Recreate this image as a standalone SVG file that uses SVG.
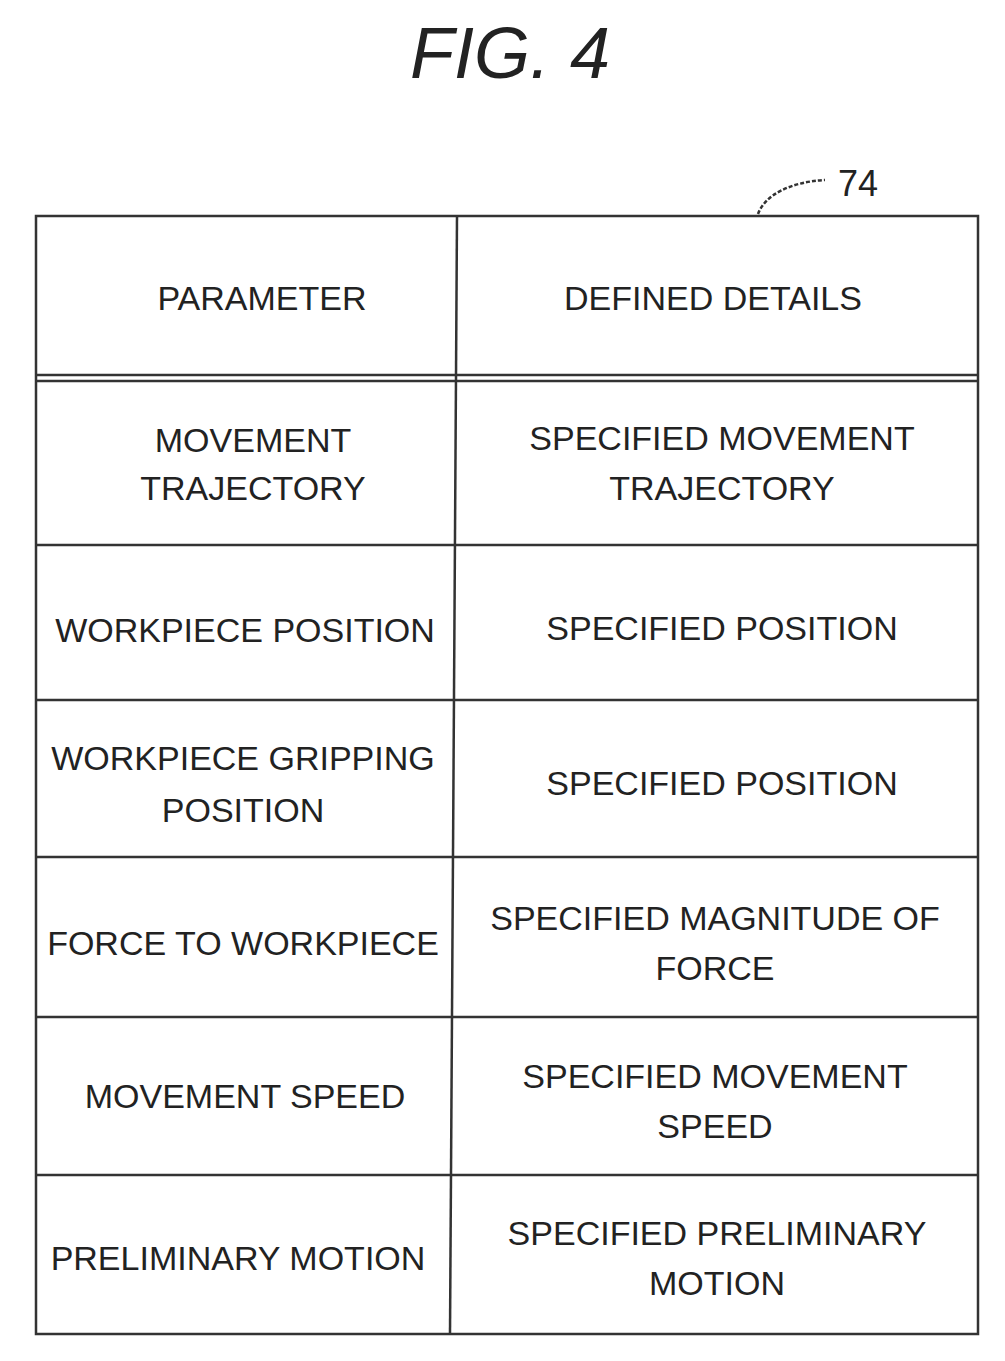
<svg xmlns="http://www.w3.org/2000/svg" width="1005" height="1361" viewBox="0 0 1005 1361">
<style>
.t{font-family:"Liberation Sans",Arial,sans-serif;font-size:34px;fill:#222;text-anchor:middle;letter-spacing:0px}
.l{stroke:#333;stroke-width:2.5;fill:none}
</style>
<rect width="1005" height="1361" fill="#fff"/>
<text x="510" y="78" font-family="Liberation Sans,Arial,sans-serif" font-style="italic" font-size="72" fill="#222" text-anchor="middle">FIG. 4</text>
<g id="ref74">
<text x="858" y="196" font-family="Liberation Sans,Arial,sans-serif" font-size="36" fill="#222" text-anchor="middle">74</text>
<path class="l" d="M758 214 C765 195 790 182 825 180" stroke-dasharray="4 2"/>
</g>
<g id="connectors">
<rect class="l" x="36" y="216" width="942" height="1118"/>
<line class="l" x1="457" y1="216" x2="450" y2="1334"/>
<line class="l" x1="36" y1="375" x2="978" y2="375"/>
<line class="l" x1="36" y1="381" x2="978" y2="381"/>
<line class="l" x1="36" y1="545" x2="978" y2="545"/>
<line class="l" x1="36" y1="700" x2="978" y2="700"/>
<line class="l" x1="36" y1="857" x2="978" y2="857"/>
<line class="l" x1="36" y1="1017" x2="978" y2="1017"/>
<line class="l" x1="36" y1="1175" x2="978" y2="1175"/>
</g>
<g id="r0"><text class="t" x="262" y="310">PARAMETER</text><text class="t" x="713" y="310">DEFINED DETAILS</text></g>
<g id="r1"><text class="t" x="253" y="452">MOVEMENT</text><text class="t" x="253" y="500">TRAJECTORY</text><text class="t" x="722" y="450">SPECIFIED MOVEMENT</text><text class="t" x="722" y="500">TRAJECTORY</text></g>
<g id="r2"><text class="t" x="245" y="642">WORKPIECE POSITION</text><text class="t" x="722" y="640">SPECIFIED POSITION</text></g>
<g id="r3"><text class="t" x="243" y="770">WORKPIECE GRIPPING</text><text class="t" x="243" y="822">POSITION</text><text class="t" x="722" y="795">SPECIFIED POSITION</text></g>
<g id="r4"><text class="t" x="243" y="955">FORCE TO WORKPIECE</text><text class="t" x="715" y="930">SPECIFIED MAGNITUDE OF</text><text class="t" x="715" y="980">FORCE</text></g>
<g id="r5"><text class="t" x="245" y="1108">MOVEMENT SPEED</text><text class="t" x="715" y="1088">SPECIFIED MOVEMENT</text><text class="t" x="715" y="1138">SPEED</text></g>
<g id="r6"><text class="t" x="238" y="1270">PRELIMINARY MOTION</text><text class="t" x="717" y="1245">SPECIFIED PRELIMINARY</text><text class="t" x="717" y="1295">MOTION</text></g>
</svg>
